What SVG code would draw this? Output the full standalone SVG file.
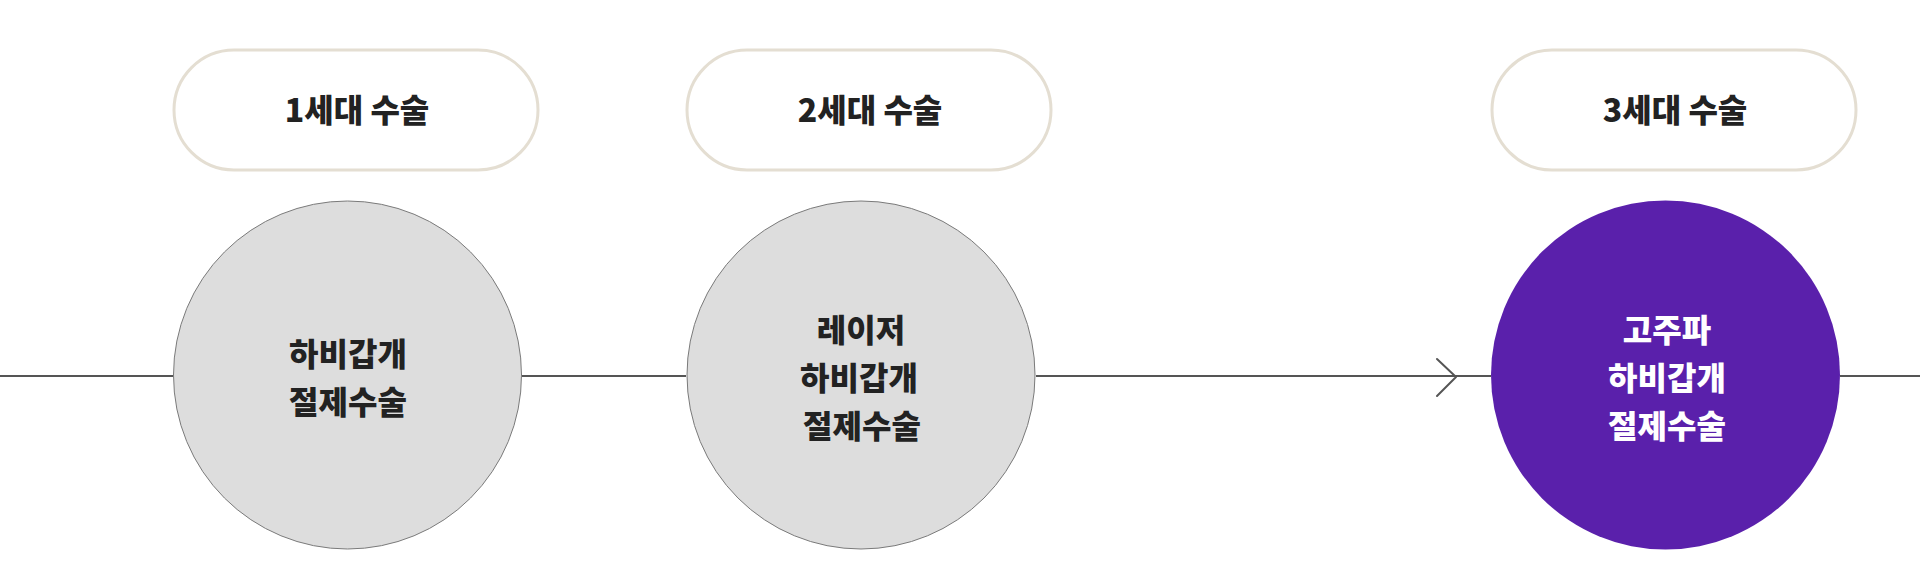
<svg xmlns="http://www.w3.org/2000/svg" width="1920" height="583" viewBox="0 0 1920 583">
<style>
.pill{fill:#ffffff;stroke:#e4ded2;stroke-width:3}
.circ{fill:#dddddd;stroke:#7a7a7a;stroke-width:1}
.circp{fill:#5a20ab}
.t{font-family:"Noto Sans CJK KR","Noto Sans",sans-serif;font-weight:900;font-size:32px;text-anchor:middle;fill:#222222}
.tw{fill:#ffffff}
.ln{stroke:#555555;stroke-width:2;fill:none}
</style>
<rect width="1920" height="583" fill="#ffffff"/>
<g id="connectors">
<line class="ln" x1="0" y1="376" x2="173" y2="376"/>
<line class="ln" x1="522" y1="376" x2="686" y2="376"/>
<line class="ln" x1="1036" y1="376" x2="1491" y2="376"/>
<polyline class="ln" points="1437,359 1456,377 1437,396" stroke-linecap="round" stroke-linejoin="round"/>
<line class="ln" x1="1840" y1="376" x2="1920" y2="376"/>
</g>
<g id="gen1-label">
<rect class="pill" x="174" y="50" width="364" height="120" rx="60"/>
<text class="t" x="357" y="122">1세대 수술</text>
</g>
<g id="gen1">
<circle class="circ" cx="347.5" cy="375" r="174"/>
<text class="t" x="348" y="366">하비갑개</text>
<text class="t" x="348" y="414">절제수술</text>
</g>
<g id="gen2-label">
<rect class="pill" x="687" y="50" width="364" height="120" rx="60"/>
<text class="t" x="870" y="122">2세대 수술</text>
</g>
<g id="gen2">
<circle class="circ" cx="861" cy="375" r="174"/>
<text class="t" x="861" y="342">레이저</text>
<text class="t" x="859" y="390">하비갑개</text>
<text class="t" x="862" y="438">절제수술</text>
</g>
<g id="gen3-label">
<rect class="pill" x="1492" y="50" width="364" height="120" rx="60"/>
<text class="t" x="1675" y="122">3세대 수술</text>
</g>
<g id="gen3">
<circle class="circp" cx="1665.5" cy="375" r="174.5"/>
<text class="t tw" x="1667" y="342">고주파</text>
<text class="t tw" x="1667" y="390">하비갑개</text>
<text class="t tw" x="1667" y="438">절제수술</text>
</g>
</svg>
